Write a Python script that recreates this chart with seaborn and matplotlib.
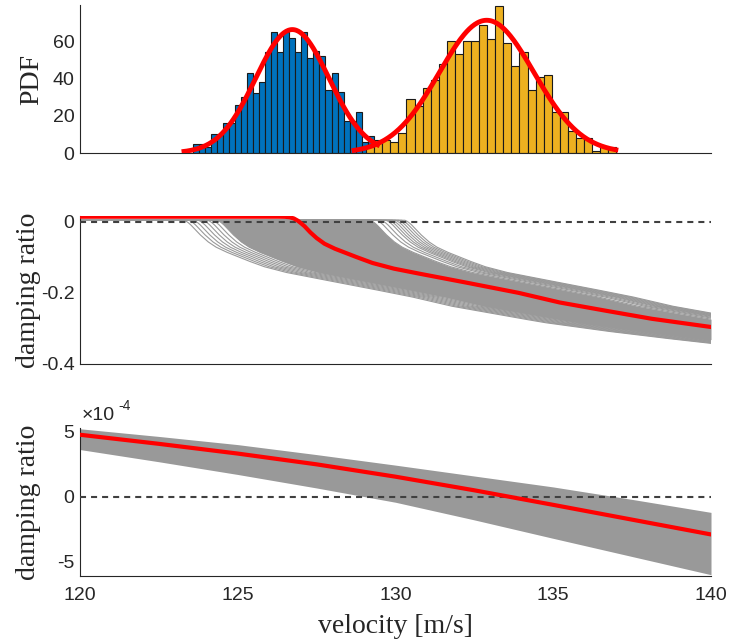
import numpy as np
import pandas as pd
import matplotlib
matplotlib.use("Agg")
import matplotlib.pyplot as plt
import seaborn as sns
from matplotlib.ticker import FuncFormatter

# ---------------- data ----------------
# flutter-speed samples, binned (counts per bin)
blue_start = 123.59
blue_width = 0.1905
blue_counts = [5, 5, 3, 10, 10, 16, 16, 26, 30, 43, 32, 38, 54, 65, 54, 65, 62,
               54, 65, 51, 55, 52, 34, 43, 33, 17, 17, 22, 6, 9]
yellow_start = 129.07
yellow_width = 0.2557
yellow_counts = [3, 7, 7, 6, 11, 29, 25, 35, 39, 48, 60, 53, 60, 60, 69, 61, 79,
                 59, 47, 54, 34, 41, 42, 22, 22, 12, 8, 8, 1, 3, 3]

# normal fits drawn over the histograms
blue_fit_mu, blue_fit_sigma, blue_fit_peak = 126.73, 1.16, 66.3
blue_fit_range = [123.22, 129.5]
yellow_fit_mu, yellow_fit_sigma, yellow_fit_peak = 132.89, 1.50, 71.3
yellow_fit_range = [128.61, 137.06]

# nominal damping ratio of the unstable mode
mode_v = [120.0, 126.3, 126.5, 126.65, 126.78, 126.9, 127.0, 127.12, 127.3,
          127.5, 127.75, 128.08, 128.75, 129.27, 129.95, 130.75, 132.23, 133.9,
          135.2, 136.65, 138.13, 140.0]
mode_zeta = [0.014, 0.014, 0.0137, 0.0125, 0.009, 0.003, -0.004, -0.013, -0.030,
             -0.046, -0.062, -0.076, -0.099, -0.116, -0.132, -0.146, -0.171, -0.200,
             -0.227, -0.250, -0.273, -0.296]

# drop of the damping ratio after onset (shared by the sampled curves)
drop_dv = [0.0, 0.05, 0.12, 0.2, 0.31, 0.5, 0.75, 1.0, 1.33, 2.0, 2.52, 3.2, 4.0,
           5.48, 7.15, 8.45, 9.9, 11.38, 13.25, 15.0, 16.7, 17.5]
drop_val = [0.0, 0.002, 0.006, 0.012, 0.022, 0.040, 0.060, 0.075, 0.089, 0.113,
            0.130, 0.146, 0.160, 0.185, 0.214, 0.241, 0.264, 0.287, 0.310, 0.329,
            0.346, 0.354]
sample_level = 0.004
sample_onsets = [123.3, 123.45, 123.6, 123.75, 123.9, 124.05, 124.2, 124.35,
                 124.8, 125.3, 125.8, 126.3, 126.8, 127.3, 127.8, 128.3, 128.8,
                 129.2, 129.4, 129.55, 129.7, 129.8, 129.9, 130.0, 130.1, 130.2, 130.3]
band_onsets = [124.35, 129.2]

# stable mode: nominal curve and envelope of the samples
stable_v = [120.0, 122.5, 125.0, 127.5, 130.0, 132.5, 135.0, 137.5, 140.0]
stable_nominal = [4.78e-4, 4.08e-4, 3.33e-4, 2.50e-4, 1.55e-4, 0.50e-4, -0.62e-4, -1.76e-4, -2.90e-4]
stable_upper = [5.24e-4, 4.65e-4, 4.02e-4, 3.25e-4, 2.44e-4, 1.60e-4, 0.76e-4, -0.20e-4, -1.20e-4]
stable_lower = [3.64e-4, 2.70e-4, 1.72e-4, 0.68e-4, -0.42e-4, -1.78e-4, -3.20e-4, -4.60e-4, -6.00e-4]

x_ticks = [120, 125, 130, 135, 140]

# ---------------- style ----------------
sns.set_theme(style="white")
plt.rcParams["font.family"] = ["Liberation Sans", "DejaVu Sans"]
plt.rcParams["axes.unicode_minus"] = False

AX_COL = "#262626"
BLUE = "#0072BD"
YELLOW = "#EDB120"
GRAY = "#999999"
RED = "#FF0000"
LABEL_FONT = dict(family="Liberation Serif", size=20, color=AX_COL)

fig = plt.figure(figsize=(7.30, 6.42), dpi=100)
left, width, height = 80 / 730, 631 / 730, 148 / 642
ax1 = fig.add_axes([left, 1 - 153 / 642, width, height])
ax2 = fig.add_axes([left, 1 - 364 / 642, width, height])
ax3 = fig.add_axes([left, 1 - 576 / 642, width, height])


def style_axes(ax, label_x):
    for s in ("top", "right"):
        ax.spines[s].set_visible(False)
    for s in ("left", "bottom"):
        ax.spines[s].set_color(AX_COL)
        ax.spines[s].set_linewidth(0.8)
    ax.tick_params(direction="in", length=5, width=0.8, color=AX_COL,
                   labelsize=14, labelcolor=AX_COL, pad=4)
    ax.set_xlim(120, 140)
    ax.grid(False)
    ax.set_facecolor("none")
    ax.yaxis.set_label_coords(label_x, 0.5)


# ---------------- top: histograms with normal fits ----------------
def hist(ax, start, w, counts, color):
    edges = start + w * np.arange(len(counts) + 1)
    df = pd.DataFrame({"v": edges[:-1] + w / 2, "n": counts})
    sns.histplot(data=df, x="v", weights="n", bins=edges.tolist(), ax=ax,
                 color=color, alpha=1.0, edgecolor="#1a1a1a", linewidth=0.8)


def fit(ax, mu, sigma, peak, rng):
    x = np.linspace(rng[0], rng[1], 300)
    y = peak * np.exp(-0.5 * ((x - mu) / sigma) ** 2)
    ax.plot(x, y, color=RED, lw=3.5, solid_capstyle="butt", zorder=5)


hist(ax1, blue_start, blue_width, blue_counts, BLUE)
hist(ax1, yellow_start, yellow_width, yellow_counts, YELLOW)
fit(ax1, blue_fit_mu, blue_fit_sigma, blue_fit_peak, blue_fit_range)
fit(ax1, yellow_fit_mu, yellow_fit_sigma, yellow_fit_peak, yellow_fit_range)
style_axes(ax1, -0.056)
ax1.set_ylim(0, 79.5)
ax1.set_yticks([0, 20, 40, 60])
ax1.set_xticks([])
ax1.set_ylabel("PDF", fontdict=LABEL_FONT)
ax1.set_xlabel("")

# ---------------- middle: unstable mode ----------------
vgrid = np.linspace(120, 140, 1201)


def sampled_curve(onset):
    dv = vgrid - onset
    return np.where(dv < 0, sample_level,
                    sample_level - np.interp(dv, drop_dv, drop_val))


ax2.fill_between(vgrid, sampled_curve(band_onsets[0]), sampled_curve(band_onsets[1]),
                 color=GRAY, lw=0, zorder=1)
for onset in sample_onsets:
    ax2.plot(vgrid, sampled_curve(onset), color=GRAY, lw=0.8, zorder=2)
ax2.axhline(0, color="#404040", lw=1.5, ls=(0, (2.9, 2.4)), zorder=3)
sns.lineplot(x=mode_v, y=mode_zeta, ax=ax2, color=RED, lw=3, zorder=4,
             sort=False, estimator=None)
style_axes(ax2, -0.062)
ax2.set_ylim(-0.4, 0.016)
ax2.set_yticks([-0.4, -0.2, 0])
ax2.yaxis.set_major_formatter(FuncFormatter(lambda v, p: "0" if abs(v) < 1e-9 else f"{v:g}"))
ax2.set_xticks([])
ax2.set_ylabel("damping ratio", fontdict=LABEL_FONT)

# ---------------- bottom: stable mode ----------------
ax3.fill_between(stable_v, stable_lower, stable_upper, color=GRAY, lw=0, zorder=1)
ax3.axhline(0, color="#404040", lw=1.5, ls=(0, (2.9, 2.4)), zorder=3)
sns.lineplot(x=stable_v, y=stable_nominal, ax=ax3, color=RED, lw=3, zorder=4,
             sort=False, estimator=None)
style_axes(ax3, -0.062)
ax3.set_ylim(-6.1e-4, 5.3e-4)
ax3.set_yticks([-5e-4, 0, 5e-4])
ax3.yaxis.set_major_formatter(FuncFormatter(lambda v, p: f"{v * 1e4:.0f}"))
ax3.set_xticks(x_ticks)
ax3.tick_params(axis="x", pad=8)
ax3.set_ylabel("damping ratio", fontdict=LABEL_FONT)
ax3.set_xlabel("velocity [m/s]", fontdict=LABEL_FONT, labelpad=7)
ax3.text(0.003, 1.03, "\u00d710", transform=ax3.transAxes, fontsize=14,
         color=AX_COL, ha="left", va="bottom")
ax3.text(0.061, 1.10, "-4", transform=ax3.transAxes, fontsize=10,
         color=AX_COL, ha="left", va="bottom")

fig.savefig("out.png", dpi=100)
